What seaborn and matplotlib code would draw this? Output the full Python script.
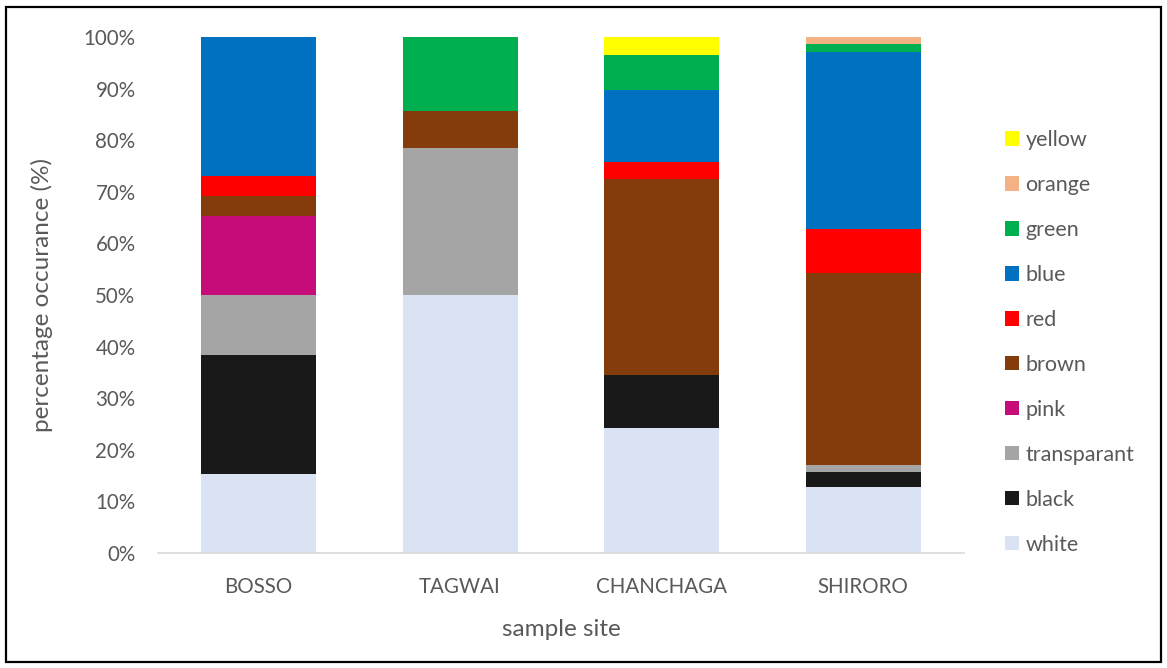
import numpy as np
import pandas as pd
import matplotlib
matplotlib.use("Agg")
import matplotlib.pyplot as plt
from matplotlib.patches import Patch, Rectangle
from matplotlib.ticker import PercentFormatter
import seaborn as sns

# Sample sites (x categories)
sites = ["BOSSO", "TAGWAI", "CHANCHAGA", "SHIRORO"]

# Colour classes, listed top of stack / legend first
classes = ["yellow", "orange", "green", "blue", "red", "brown",
           "pink", "transparant", "black", "white"]

# Percentage occurrence of each colour class per site (BOSSO, TAGWAI, CHANCHAGA, SHIRORO)
yellow      = [0.00,  0.00,  3.45,  0.00]
orange      = [0.00,  0.00,  0.00,  1.43]
green       = [0.00, 14.29,  6.90,  1.43]
blue        = [26.92, 0.00, 13.79, 34.29]
red         = [3.85,  0.00,  3.45,  8.57]
brown       = [3.85,  7.14, 37.93, 37.14]
pink        = [15.38, 0.00,  0.00,  0.00]
transparant = [11.54, 28.57, 0.00,  1.43]
black       = [23.08, 0.00, 10.34,  2.86]
white       = [15.38, 50.00, 24.14, 12.86]

series = [yellow, orange, green, blue, red, brown, pink, transparant, black, white]

palette = {
    "yellow": "#FFFF00",
    "orange": "#F4B183",
    "green": "#00B050",
    "blue": "#0070C0",
    "red": "#FF0000",
    "brown": "#843C0C",
    "pink": "#C60C78",
    "transparant": "#A5A5A5",
    "black": "#191919",
    "white": "#DAE3F3",
}

rows = []
for cls, vals in zip(classes, series):
    for site, v in zip(sites, vals):
        rows.append({"site": site, "colour": cls, "share": v / 100.0})
df = pd.DataFrame(rows)
df["site"] = pd.Categorical(df["site"], categories=sites, ordered=True)

sns.set_theme(style="white")
plt.rcParams["font.family"] = ["Lato", "DejaVu Sans"]

fig = plt.figure(figsize=(11.67, 6.68), dpi=100)
ax = fig.add_axes([157.75 / 1167, 1 - 553 / 668, (964 - 157.75) / 1167, (553 - 37) / 668])

sns.histplot(
    data=df, x="site", weights="share", hue="colour",
    hue_order=classes, palette=palette, multiple="stack",
    discrete=True, shrink=0.57, linewidth=0, alpha=1,
    legend=False, ax=ax,
)

txt = "#595959"
ax.set_xlim(-0.5, len(sites) - 0.5)
ax.set_ylim(0, 1)
ax.set_yticks(np.arange(0, 1.01, 0.1))
ax.yaxis.set_major_formatter(PercentFormatter(1.0, decimals=0))
ax.tick_params(axis="both", length=0, labelsize=14.8, labelcolor=txt)
ax.tick_params(axis="y", pad=16)
ax.tick_params(axis="x", pad=17)
for s in ["top", "right", "left"]:
    ax.spines[s].set_visible(False)
ax.spines["bottom"].set_color("#D9D9D9")
ax.spines["bottom"].set_linewidth(1.2)
ax.set_xlabel("sample site", fontsize=17.5, color=txt, labelpad=16)
ax.set_ylabel("percentage occurance (%)", fontsize=17.5, color=txt, labelpad=22)

handles = [Patch(facecolor=palette[c], edgecolor="none", label=c) for c in classes]
fig.legend(
    handles=handles, loc="upper left",
    bbox_to_anchor=(1005 / 1167, 1 - 130 / 668),
    frameon=False, fontsize=15.5, labelcolor=txt,
    handlelength=0.65, handleheight=0.65, handletextpad=0.3,
    labelspacing=1.16, borderpad=0, borderaxespad=0,
)

# Outer frame around the whole chart
fig.add_artist(Rectangle((6 / 1167, 6 / 668), 1155 / 1167, 655 / 668,
                         transform=fig.transFigure, fill=False,
                         edgecolor="black", linewidth=1.6))

fig.savefig("out.png", dpi=100)
